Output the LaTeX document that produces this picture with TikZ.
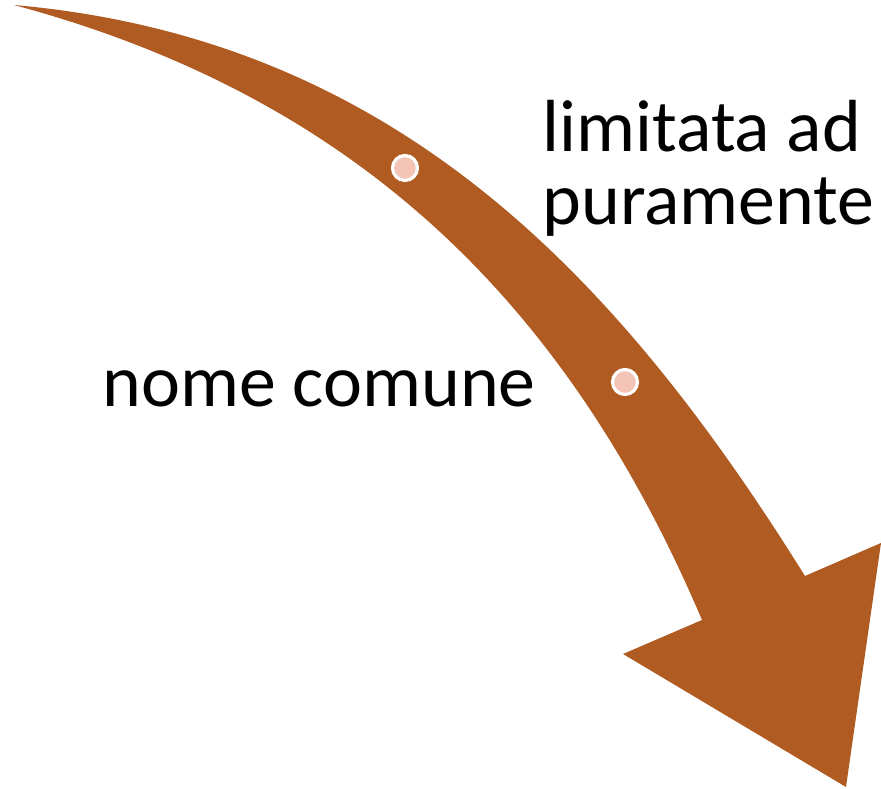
\documentclass[tikz,border=0pt]{standalone}
\usepackage{fontspec}
\setmainfont{Carlito}
\usepackage{tikz}
\definecolor{arrowbrown}{HTML}{AF5B21}
\definecolor{dotpink}{HTML}{F4C5B6}
\tikzset{
  label text/.style={font=\fontsize{21}{20.5}\selectfont, inner sep=0pt, align=left},
  stop dot/.style={fill=dotpink, draw=white, line width=0.9pt}
}
\begin{document}
\begin{tikzpicture}[x=0.01cm, y=-0.01cm]
% define variables
\pgfmathparse{12.5}\let\r=\pgfmathresult
\useasboundingbox (0,0) rectangle (881,789);

% draw curved arrow
\fill[arrowbrown] (14,5) .. controls (400,39) and (622,283) .. (805,576)
  -- (881,543) -- (846,787) -- (623,654) -- (702,620)
  .. controls (565,298) and (352,96) .. (14,5) -- cycle;

% draw dots on the arrow
\foreach \x/\y in {405/168, 625/382}{
	\draw[stop dot] (\x, \y) circle (\r);
}

% text
\node[label text, anchor=north west] (limitata) at (542,100) {limitata ad\\puramente};
\node[label text, anchor=base west] (nome) at (102,407) {nome comune};
\end{tikzpicture}
\end{document}
